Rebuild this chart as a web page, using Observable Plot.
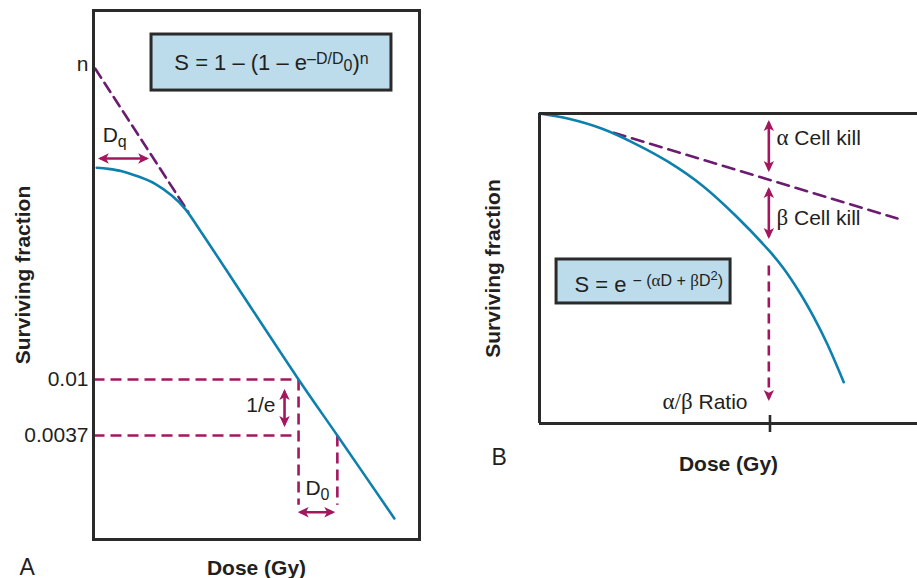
<!DOCTYPE html>
<html><head><meta charset="utf-8">
<script src="https://cdn.jsdelivr.net/npm/d3@7"></script>
<script src="https://cdn.jsdelivr.net/npm/@observablehq/plot@0.6"></script>
<style>
html,body{margin:0;padding:0;background:#fff;overflow:hidden}
#wrap{position:relative;width:917px;height:578px;background:#fff}
#wrap svg{position:absolute;top:0}
</style></head><body><div id="wrap"></div>
<script>
// ================= DATA =================
// Panel A – multitarget survival curve (log surviving fraction vs dose)
const xDomainA = [0, 10];
const yDomainA = [0.000584, 7.0];
const curveDoseA = [0.10, 0.46, 0.87, 1.38, 1.89, 2.40, 2.81, 3.27, 6.29, 7.48, 9.23];
const curveSurvA = [0.429, 0.421, 0.404, 0.367, 0.323, 0.262, 0.207, 0.141, 0.0100, 0.0037, 0.000848];
const tangentDoseA = [0.05, 2.91];
const tangentSurvA = [2.5, 0.195];
const yTickValuesA = [2.7, 0.01, 0.0037];
const yTickLabelsA = ["n", "0.01", "0.0037"];
const refX1A = [0, 6.29, 0, 7.48];
const refY1A = [0.01, 0.01, 0.0037, 0.0037];
const refX2A = [6.29, 6.29, 6.22, 7.48];
const refY2A = [0.01, 0.00108, 0.0037, 0.00108];
const arrowX1A = [0.21, 5.86, 6.34];
const arrowY1A = [0.506, 0.00808, 0.000948];
const arrowX2A = [1.63, 5.86, 7.34];
const arrowY2A = [0.506, 0.0045, 0.000948];
const labelTextA = ["Dq", "1/e", "D0"];
const labelXA = [0.28, 5.58, 6.50];
const labelYA = [0.76, 0.0063, 0.00144];
const formulaA = "S = 1 – (1 – e–D/D0)n";
const formulaBoxXA = [1.78, 9.14];
const formulaBoxYA = [4.57, 1.69];
const formulaPosA = [5.46, 2.78];

// Panel B – linear-quadratic survival curve
const xDomainB = [0, 16.4];
const yDomainB = [4.54e-5, 1];
const curveDoseB = [0, 1.27, 2.72, 4.16, 5.61, 7.06, 8.50, 10.02, 10.60, 11.32, 11.90, 12.48, 13.20];
const curveSurvB = [1, 0.843, 0.611, 0.376, 0.208, 0.0980, 0.0372, 0.0114, 0.00667, 0.00298, 0.00140, 0.000594, 0.000172];
const tangentDoseB = [3.22, 15.53];
const tangentSurvB = [0.537, 0.0338];
const ratioDose = [10];
const arrowXB = [9.95, 9.95];
const arrowY1B = [0.748, 0.0861];
const arrowY2B = [0.164, 0.0189];
const ratioArrowY = [0.00743, 0.000102];
const labelTextB = ["α Cell kill", "β Cell kill", "α/β Ratio"];
const labelXB = [10.28, 10.28, 7.18];
const labelYB = [0.454, 0.0338, 0.0000903];
const formulaB = "S = e − (αD + βD2)";
const formulaBoxXB = [0.74, 8.29];
const formulaBoxYB = [0.00901, 0.00218];
const formulaPosB = [4.74, 0.00402];

const axisLabelY = "Surviving fraction";
const axisLabelX = "Dose (Gy)";
const panelNames = ["A", "B"];

// ================= STYLE =================
const BLUE = "#0d80ad", PURPLE = "#6b1c70", MAGENTA = "#a3175f",
      FRAME = "#2a2a2a", BOXFILL = "#bcdcec", INK = "#231f20";
const SANS = "Liberation Sans, Arial, Helvetica, sans-serif";
const SERIF = "Liberation Serif, Times New Roman, serif";

function head(color) {
  const m = d3.create("svg:marker")
    .attr("viewBox", "-6 -6 12 12")
    .attr("markerUnits", "userSpaceOnUse")
    .attr("markerWidth", 12).attr("markerHeight", 12)
    .attr("refX", 3.5).attr("refY", 0)
    .attr("orient", "auto-start-reverse")
    .attr("fill", color).attr("stroke", "none");
  m.append("path").attr("d", "M6,0L-5,-5.2L-2.2,0L-5,5.2Z");
  return m.node();
}

function richText(svg, plain, parts) {
  d3.select(svg).selectAll("text").filter(function () { return this.textContent === plain; })
    .each(function () {
      const t = d3.select(this);
      t.text(null);
      let cur = 0;
      for (const p of parts) {
        const s = p.shift || 0;
        const ts = t.append("tspan").text(p.text);
        if (s !== cur) ts.attr("dy", s - cur);
        if (p.size) ts.attr("font-size", p.size);
        if (p.family) ts.attr("font-family", p.family);
        cur = s;
      }
    });
}

const zip2 = (xs, ys) => xs.map((x, i) => ({x, y: ys[i]}));
const seg = (x1, y1, x2, y2) => x1.map((_, i) => ({x1: x1[i], y1: y1[i], x2: x2[i], y2: y2[i]}));

// ================= PANEL A =================
const svgA = Plot.plot({
  width: 460, height: 578,
  marginLeft: 93, marginRight: 41, marginTop: 10, marginBottom: 39,
  x: {domain: xDomainA, axis: null},
  y: {type: "log", domain: yDomainA, axis: null},
  style: {fontFamily: SANS, color: INK, background: "#fff", overflow: "visible"},
  marks: [
    Plot.rect([0], {x1: [formulaBoxXA[0]], x2: [formulaBoxXA[1]], y1: [formulaBoxYA[0]], y2: [formulaBoxYA[1]],
      fill: BOXFILL, stroke: FRAME, strokeWidth: 3}),
    Plot.text([formulaA], {x: [formulaPosA[0]], y: [formulaPosA[1]], text: d => d, fontSize: 22, fill: INK}),
    Plot.link(seg(refX1A, refY1A, refX2A, refY2A), {x1: "x1", y1: "y1", x2: "x2", y2: "y2",
      stroke: MAGENTA, strokeWidth: 2.6, strokeDasharray: "11,6"}),
    Plot.line(zip2(tangentDoseA, tangentSurvA), {x: "x", y: "y", stroke: PURPLE, strokeWidth: 2.6, strokeDasharray: "11,6"}),
    Plot.line(zip2(curveDoseA, curveSurvA), {x: "x", y: "y", stroke: BLUE, strokeWidth: 2.6, curve: "catmull-rom"}),
    Plot.link(seg(arrowX1A, arrowY1A, arrowX2A, arrowY2A), {x1: "x1", y1: "y1", x2: "x2", y2: "y2",
      stroke: MAGENTA, strokeWidth: 2.6, markerStart: head, markerEnd: head}),
    Plot.text([labelTextA[0]], {x: [labelXA[0]], y: [labelYA[0]], text: d => d, textAnchor: "start", fontSize: 21, fill: INK}),
    Plot.text([labelTextA[1]], {x: [labelXA[1]], y: [labelYA[1]], text: d => d, textAnchor: "end", fontSize: 21, fill: INK}),
    Plot.text([labelTextA[2]], {x: [labelXA[2]], y: [labelYA[2]], text: d => d, textAnchor: "start", fontSize: 21, fill: INK}),
    Plot.axisY(yTickValuesA, {tickSize: 0, tickPadding: 5, fontSize: 21, label: null,
      tickFormat: d => yTickLabelsA[yTickValuesA.indexOf(d)]}),
    Plot.axisY({ticks: [], tickSize: 0, label: axisLabelY, labelAnchor: "center", labelOffset: 78, labelArrow: "none",
      fontSize: 21, fontWeight: "bold"}),
    Plot.axisX({ticks: [], tickSize: 0, label: axisLabelX, labelAnchor: "center", labelOffset: 35, labelArrow: "none",
      fontSize: 21, fontWeight: "bold"}),
    Plot.text([panelNames[0]], {frameAnchor: "bottom-left", dx: -74, dy: 35, text: d => d, fontSize: 23, fill: INK}),
    Plot.frame({stroke: FRAME, strokeWidth: 3})
  ]
});
svgA.style.left = "0px";
document.getElementById("wrap").appendChild(svgA);

// ================= PANEL B =================
const svgB = Plot.plot({
  width: 457, height: 578,
  marginLeft: 79, marginRight: 0, marginTop: 113, marginBottom: 155,
  x: {domain: xDomainB, axis: null},
  y: {type: "log", domain: yDomainB, axis: null},
  style: {fontFamily: SANS, color: INK, background: "#fff", overflow: "visible"},
  marks: [
    Plot.rect([0], {x1: [formulaBoxXB[0]], x2: [formulaBoxXB[1]], y1: [formulaBoxYB[0]], y2: [formulaBoxYB[1]],
      fill: BOXFILL, stroke: FRAME, strokeWidth: 3}),
    Plot.text([formulaB], {x: [formulaPosB[0]], y: [formulaPosB[1]], text: d => d, fontSize: 22, fill: INK}),
    Plot.line(zip2(tangentDoseB, tangentSurvB), {x: "x", y: "y", stroke: PURPLE, strokeWidth: 2.6, strokeDasharray: "12,7"}),
    Plot.line(zip2(curveDoseB, curveSurvB), {x: "x", y: "y", stroke: BLUE, strokeWidth: 2.6, curve: "catmull-rom"}),
    Plot.link(seg(arrowXB, arrowY1B, arrowXB, arrowY2B), {x1: "x1", y1: "y1", x2: "x2", y2: "y2",
      stroke: MAGENTA, strokeWidth: 2.6, markerStart: head, markerEnd: head}),
    Plot.link(seg([arrowXB[0]], [ratioArrowY[0]], [arrowXB[0]], [ratioArrowY[1]]), {x1: "x1", y1: "y1", x2: "x2", y2: "y2",
      stroke: MAGENTA, strokeWidth: 2.6, strokeDasharray: "10,6", markerEnd: head}),
    Plot.text(labelTextB.slice(0, 2), {x: labelXB.slice(0, 2), y: labelYB.slice(0, 2), text: d => d, textAnchor: "start", fontSize: 21, fill: INK}),
    Plot.text([labelTextB[2]], {x: [labelXB[2]], y: [labelYB[2]], text: d => d, fontSize: 21, fill: INK}),
    Plot.axisY({ticks: [], tickSize: 0, label: axisLabelY, labelAnchor: "center", labelOffset: 54, labelArrow: "none",
      fontSize: 21, fontWeight: "bold"}),
    Plot.axisX({ticks: [], tickSize: 0, label: axisLabelX, labelAnchor: "center", labelOffset: 47, labelArrow: "none",
      fontSize: 21, fontWeight: "bold"}),
    Plot.tickX(ratioDose, {x: d => d, insetTop: 302, insetBottom: -9, stroke: FRAME, strokeWidth: 2.6}),
    Plot.text([panelNames[1]], {frameAnchor: "bottom-left", dx: -48, dy: 41, text: d => d, fontSize: 23, fill: INK}),
    Plot.ruleY([yDomainB[1]], {stroke: FRAME, strokeWidth: 3}),
    Plot.ruleY([yDomainB[0]], {stroke: FRAME, strokeWidth: 3}),
    Plot.ruleX([xDomainB[0]], {stroke: FRAME, strokeWidth: 3})
  ]
});
svgB.style.left = "460px";
document.getElementById("wrap").appendChild(svgB);

// ================= rich text (super/subscripts, Greek in serif) =================
richText(svgA, formulaA, [
  {text: "S = 1 – (1 – e"}, {text: "–D/D", size: 16, shift: -6}, {text: "0", size: 16, shift: 1},
  {text: ")"}, {text: "n", size: 16, shift: -6}]);
richText(svgA, "Dq", [{text: "D"}, {text: "q", size: 16, shift: 5}]);
richText(svgA, "D0", [{text: "D"}, {text: "0", size: 16, shift: 5}]);
richText(svgB, formulaB, [
  {text: "S = e "}, {text: "− (", size: 16, shift: -6}, {text: "α", size: 17, shift: -6, family: SERIF},
  {text: "D + ", size: 16, shift: -6}, {text: "β", size: 17, shift: -6, family: SERIF},
  {text: "D", size: 16, shift: -6}, {text: "2", size: 13, shift: -12}, {text: ")", size: 16, shift: -6}]);
richText(svgB, "α Cell kill", [{text: "α", family: SERIF, size: 23}, {text: " Cell kill"}]);
richText(svgB, "β Cell kill", [{text: "β", family: SERIF, size: 23}, {text: " Cell kill"}]);
richText(svgB, "α/β Ratio", [{text: "α/β", family: SERIF, size: 23}, {text: " Ratio"}]);
</script></body></html>
